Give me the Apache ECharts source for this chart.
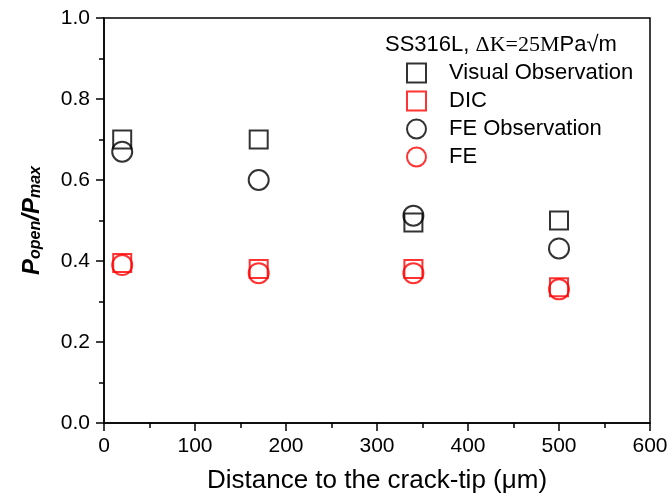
<!DOCTYPE html>
<html><head><meta charset="utf-8">
<script src="https://cdn.jsdelivr.net/npm/echarts@6/dist/echarts.min.js"></script>
<style>html,body{margin:0;padding:0;background:#fff}#c{width:672px;height:499px}</style>
</head><body><div id="c"></div>
<script>
const distances = [20, 170, 340, 500];
const visualObs = [0.70, 0.70, 0.495, 0.50];
const dicVals = [0.395, 0.38, 0.38, 0.335];
const feObs = [0.67, 0.60, 0.512, 0.431];
const feVals = [0.39, 0.37, 0.37, 0.33];
const seriesNames = ['Visual Observation', 'DIC', 'FE Observation', 'FE'];

function pts(ys){ return distances.map((x,i)=>[x, ys[i]]); }
function mk(name, ys, symbol, color, size){
  return {name, type:'scatter', data:pts(ys), symbol, symbolSize:size,
    itemStyle:{color:'rgba(0,0,0,0)', borderColor:color, borderWidth:2},
    emphasis:{disabled:true}};
}
const chart = echarts.init(document.getElementById('c'));
const font = 'Liberation Sans, Arial, sans-serif';
chart.setOption({
  animation:false,
  grid:{left:104, top:18, right:22, bottom:75, show:true, borderColor:'#000', borderWidth:1.5},
  xAxis:{type:'value', min:0, max:600, interval:100,
    axisLine:{show:true, onZero:false, lineStyle:{color:'#000', width:1.5}},
    axisTick:{show:true, inside:false, length:8, lineStyle:{color:'#000', width:1.5}},
    minorTick:{show:true, splitNumber:2, length:5, lineStyle:{color:'#000', width:1.5}},
    splitLine:{show:false},
    axisLabel:{color:'#000', fontSize:21, fontFamily:font, margin:13},
    name:'Distance to the crack-tip (\u03bcm)', nameLocation:'middle', nameGap:45,
    nameTextStyle:{color:'#000', fontSize:26, fontFamily:font}
  },
  yAxis:{type:'value', min:0, max:1, interval:0.2,
    axisLine:{show:true, onZero:false, lineStyle:{color:'#000', width:1.5}},
    axisTick:{show:true, inside:false, length:8, lineStyle:{color:'#000', width:1.5}},
    minorTick:{show:true, splitNumber:2, length:5, lineStyle:{color:'#000', width:1.5}},
    splitLine:{show:false},
    axisLabel:{color:'#000', fontSize:21, fontFamily:font, margin:14, formatter:v=>v.toFixed(1)},
    name:'{b|P}{s|open}{b|/P}{s|max}', nameLocation:'middle', nameGap:60, nameRotate:90,
    nameTextStyle:{color:'#000', rich:{
      b:{fontSize:24, fontWeight:'bold', fontStyle:'italic', fontFamily:font, color:'#000'},
      s:{fontSize:16, fontWeight:'bold', fontStyle:'italic', fontFamily:font, color:'#000', verticalAlign:'bottom', padding:[8,0,0,0]}
    }}
  },
  legend:{orient:'vertical', left:401, top:57, itemWidth:19, itemHeight:19, itemGap:6,
    data:seriesNames, selectedMode:false,
    textStyle:{color:'#000', fontSize:22, lineHeight:19, fontFamily:font, padding:[0,0,0,18]}
  },
  graphic:[{type:'text', left:385, top:34, style:{
    rich:{a:{fontSize:22, fontFamily:font, fill:'#000'}, t:{fontSize:22, fontFamily:'Liberation Serif, Times New Roman, serif', fill:'#000'}},
    text:'{a|SS316L, }{t|\u0394K=25M}{a|Pa\u221am}'}}],
  series:[
    mk(seriesNames[0], visualObs, 'rect', '#000', 18),
    mk(seriesNames[1], dicVals, 'rect', '#f00', 18),
    mk(seriesNames[2], feObs, 'circle', '#000', 20),
    mk(seriesNames[3], feVals, 'circle', '#f00', 20)
  ]
});
</script></body></html>
